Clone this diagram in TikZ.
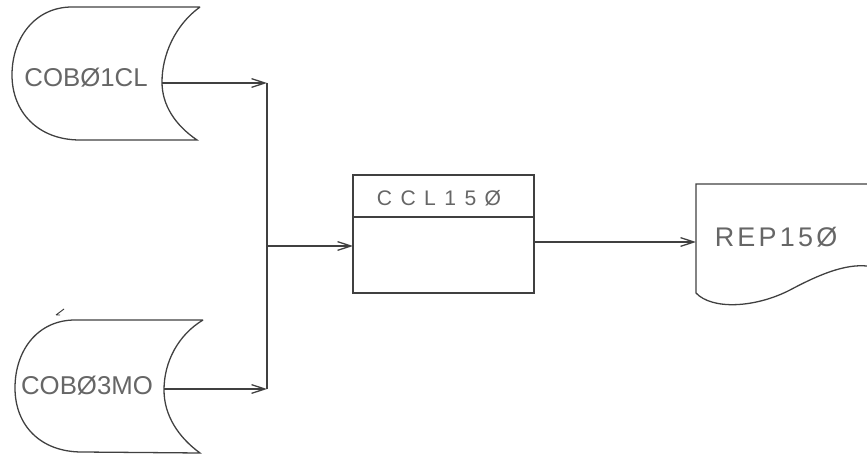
\documentclass[tikz,border=0pt]{standalone}
\usepackage{fontspec}
\setmainfont{Liberation Sans}
\usetikzlibrary{arrows.meta}
\tikzset{
  pen/.style={line width=1.1pt,draw=black!75},
  flow/.style={pen,-{Straight Barb[length=4mm,width=2.6mm]}},
  lbl/.style={text=black!60,inner sep=0pt},
}
\begin{document}
\begin{tikzpicture}[x=0.03cm,y=-0.03cm]
\useasboundingbox (0,0) rectangle (867,457);
% stored data, top
\draw[pen] (200,7) -- (72,7) .. controls (35,7) and (12,38) .. (12,75)
  .. controls (12,112) and (38,140) .. (80,140) -- (197,140)
  .. controls (175,125) and (162,105) .. (162,82)
  .. controls (162,55) and (175,25) .. (200,7);
\node[lbl,font=\fontsize{22}{24}\selectfont] (cob1) at (86,78) {COBØ1CL};
\coordinate (cob1out) at (162,83);
% stored data, bottom
\draw[pen] (203,320) -- (75,320) .. controls (38,320) and (15,350) .. (15,388)
  .. controls (15,425) and (40,452) .. (82,452) -- (200,453)
  .. controls (178,437) and (164,415) .. (164,390)
  .. controls (164,362) and (178,335) .. (203,320);
\draw[pen,line width=0.8pt] (64,309) -- (56,315) (56,315) -- (60,315);
\node[lbl,font=\fontsize{22}{24}\selectfont] (cob3) at (87,386) {COBØ3MO};
\coordinate (cob3out) at (164,389);
% collecting line
\coordinate (bustop) at (267,83);
\coordinate (busmid) at (267,246);
\coordinate (busbot) at (267,389);
\draw[pen] (bustop) -- (busbot);
\draw[flow] (cob1out) -- (bustop);
\draw[flow] (cob3out) -- (busbot);
% program box
\coordinate (cclnw) at (353,175);
\coordinate (cclse) at (534,293);
\draw[pen] (cclnw) rectangle (cclse);
\draw[pen] (353,217) -- (534,217);
\node[lbl,font=\fontsize{18}{20}\selectfont\addfontfeature{LetterSpace=40}] (ccl) at (439,198) {CCL15Ø};
\coordinate (cclin) at (353,246);
\coordinate (cclout) at (534,242);
\draw[flow] (busmid) -- (cclin);
% report
\draw[pen] (867,184) -- (696,184) -- (696,293)
  .. controls (712,310) and (755,308) .. (790,290)
  .. controls (820,274) and (845,264) .. (867,266);
\node[lbl,font=\fontsize{23}{25}\selectfont\addfontfeature{LetterSpace=12}] (rep) at (776,237) {REP15Ø};
\coordinate (repin) at (696,242);
\draw[flow] (cclout) -- (repin);
\end{tikzpicture}
\end{document}
